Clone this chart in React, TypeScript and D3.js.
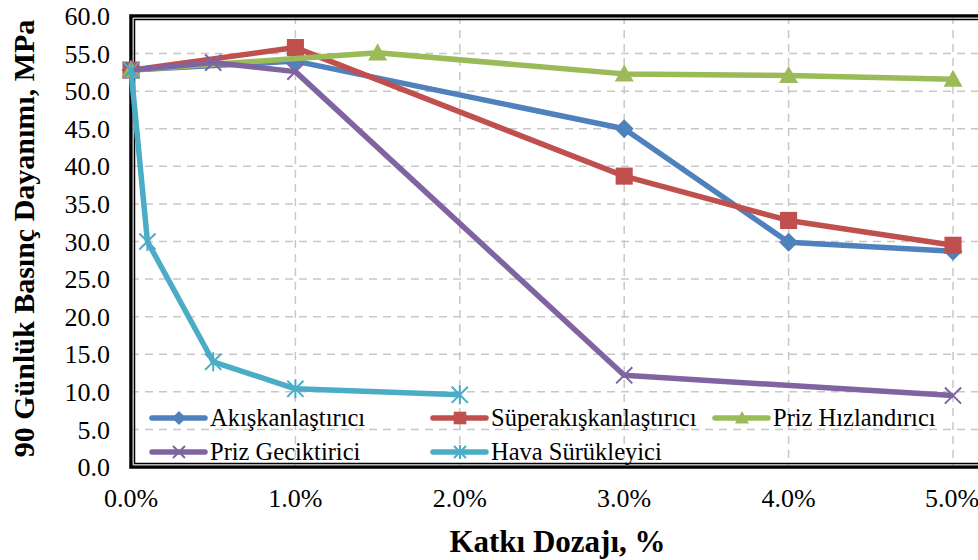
import React from "react";
import * as d3 from "d3";

const xTicks = [0, 1, 2, 3, 4, 5];
const yTicks = [0, 5, 10, 15, 20, 25, 30, 35, 40, 45, 50, 55, 60];

const akisX = [0, 1, 3, 4, 5];
const akisY = [52.8, 54.0, 45.0, 29.9, 28.7];
const superX = [0, 1, 3, 4, 5];
const superY = [52.8, 55.8, 38.7, 32.8, 29.5];
const hizX = [0, 1.5, 3, 4, 5];
const hizY = [52.8, 55.1, 52.3, 52.1, 51.6];
const gecX = [0, 0.5, 1, 3, 5];
const gecY = [52.8, 53.8, 52.6, 12.2, 9.5];
const havaX = [0, 0.1, 0.5, 1, 2];
const havaY = [52.8, 30.0, 14.0, 10.4, 9.6];

const seriesNames = [
  "Akışkanlaştırıcı",
  "Süperakışkanlaştırıcı",
  "Priz Hızlandırıcı",
  "Priz Geciktirici",
  "Hava Sürükleyici",
];
const seriesColors = ["#4F81BD", "#C0504D", "#9BBB59", "#8064A2", "#4BACC6"];
const seriesMarkers = ["diamond", "square", "triangle", "x", "star"];
const seriesXs = [akisX, superX, hizX, gecX, havaX];
const seriesYs = [akisY, superY, hizY, gecY, havaY];

const W = 978;
const H = 560;
const left = 131;
const bottom = 467;
const top = 16;

function Marker({ type, cx, cy, color, s }: { type: string; cx: number; cy: number; color: string; s: number }) {
  const h = s / 2;
  if (type === "diamond") {
    return <path d={`M${cx},${cy - h}L${cx + h},${cy}L${cx},${cy + h}L${cx - h},${cy}Z`} fill={color} />;
  }
  if (type === "square") {
    const a = h * 0.9;
    return <rect x={cx - a} y={cy - a} width={2 * a} height={2 * a} fill={color} />;
  }
  if (type === "triangle") {
    return <path d={`M${cx},${cy - h}L${cx + h},${cy + h * 0.8}L${cx - h},${cy + h * 0.8}Z`} fill={color} />;
  }
  if (type === "x") {
    const a = h * 0.85;
    return (
      <path d={`M${cx - a},${cy - a}L${cx + a},${cy + a}M${cx - a},${cy + a}L${cx + a},${cy - a}`} stroke={color} strokeWidth={2} fill="none" />
    );
  }
  const a = h * 0.85;
  return (
    <path
      d={`M${cx - a},${cy - a}L${cx + a},${cy + a}M${cx - a},${cy + a}L${cx + a},${cy - a}M${cx},${cy - h}L${cx},${cy + h}`}
      stroke={color}
      strokeWidth={2}
      fill="none"
    />
  );
}

export default function App() {
  const x = d3.scaleLinear().domain([0, 5]).range([left, 953]);
  const y = d3.scaleLinear().domain([0, 60]).range([bottom, top]);
  const line = d3
    .line<[number, number]>()
    .x((d) => x(d[0]))
    .y((d) => y(d[1]));

  const font = "Liberation Serif";
  const legendPos = [
    [152, 418],
    [433, 418],
    [715, 418],
    [152, 452],
    [433, 452],
  ];

  return (
    <div style={{ position: "absolute", left: 0, top: 0 }}>
      <svg width={W} height={H} style={{ display: "block", background: "#fff" }}>
        {/* gridlines */}
        {yTicks
          .filter((t) => t > 0 && t < 60)
          .map((t) => (
            <line key={"h" + t} x1={left} x2={W} y1={y(t)} y2={y(t)} stroke="#C8C8C8" strokeWidth={1.5} strokeDasharray="8,6" />
          ))}
        {xTicks
          .filter((t) => t > 0)
          .map((t) => (
            <line key={"v" + t} x1={x(t)} x2={x(t)} y1={top} y2={bottom} stroke="#C8C8C8" strokeWidth={1.5} strokeDasharray="8,6" />
          ))}
        {/* frame: double line */}
        <path d={`M${W + 10},${top}L${left},${top}L${left},${bottom}L${W + 10},${bottom}`} fill="none" stroke="#000" strokeWidth={3.5} />
        <path d={`M${W + 10},${top + 3.5}L${left + 3.5},${top + 3.5}L${left + 3.5},${bottom - 3.5}L${W + 10},${bottom - 3.5}`} fill="none" stroke="#000" strokeWidth={1.5} />
        <path d={`M${W + 10},${top + 1.9}L${left + 1.9},${top + 1.9}L${left + 1.9},${bottom - 1.9}L${W + 10},${bottom - 1.9}`} fill="none" stroke="#999" strokeWidth={0.8} />

        {/* y tick labels */}
        {yTicks.map((t) => (
          <text key={"yl" + t} x={110} y={y(t)} dy="0.35em" textAnchor="end" fontFamily={font} fontSize={26} fill="#000">
            {t.toFixed(1)}
          </text>
        ))}
        {/* x tick labels */}
        {xTicks.map((t) => (
          <text key={"xl" + t} x={Math.min(x(t), W - 26)} y={507} textAnchor="middle" fontFamily={font} fontSize={26} fill="#000">
            {t.toFixed(1) + "%"}
          </text>
        ))}

        {/* series */}
        {seriesNames.map((n, i) => {
          const pts = seriesXs[i].map((v, j) => [v, seriesYs[i][j]] as [number, number]);
          return (
            <g key={n}>
              <path d={line(pts) || ""} fill="none" stroke={seriesColors[i]} strokeWidth={5.5} strokeLinejoin="round" />
              {pts.map((p, j) => (
                <Marker key={j} type={seriesMarkers[i]} cx={x(p[0])} cy={y(p[1])} color={seriesColors[i]} s={19} />
              ))}
            </g>
          );
        })}

        {/* legend */}
        {seriesNames.map((n, i) => {
          const [lx, ly] = legendPos[i];
          return (
            <g key={"lg" + n}>
              <line x1={lx} x2={lx + 53} y1={ly} y2={ly} stroke={seriesColors[i]} strokeWidth={5.5} strokeLinecap="round" />
              <Marker type={seriesMarkers[i]} cx={lx + 27} cy={ly} color={seriesColors[i]} s={14} />
              <text x={lx + 58} y={ly} dy="0.33em" fontFamily={font} fontSize={24.5} fill="#000">
                {n}
              </text>
            </g>
          );
        })}

        {/* axis titles */}
        <text
          transform={`translate(34,${238.5}) rotate(-90)`}
          textAnchor="middle"
          fontFamily={font}
          fontWeight="bold"
          fontSize={30}
          fill="#000"
        >
          90 Günlük Basınç Dayanımı, MPa
        </text>
        <text x={557.5} y={552} textAnchor="middle" fontFamily={font} fontWeight="bold" fontSize={31} fill="#000">
          Katkı Dozajı, %
        </text>
      </svg>
    </div>
  );
}
